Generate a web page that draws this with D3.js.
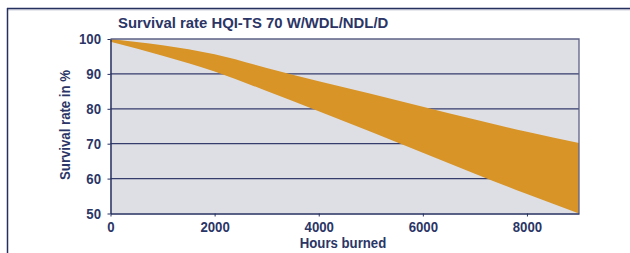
<!DOCTYPE html>
<html>
<head>
<meta charset="utf-8">
<script src="https://cdn.jsdelivr.net/npm/d3@7"></script>
<style>
  body { margin: 0; background: #fff; }
  text { font-family: "Liberation Sans", Arial, sans-serif; fill: #2b3566; font-weight: bold; }
</style>
</head>
<body>
<div id="chart"></div>
<script>
// data
var hours = [0, 1000, 2000, 3000, 4000, 5000, 6000, 7000, 8000, 9000]
var upper = [100, 98.2, 95.6, 91.7, 87.9, 84.3, 80.6, 76.9, 73.4, 70.2]
var lower = [99.2, 95.2, 90.7, 85.1, 79.3, 73.4, 67.4, 61.4, 55.6, 50]
var x_ticks = [0, 2000, 4000, 6000, 8000]
var y_ticks = [50, 60, 70, 80, 90, 100]

var total_width = 630, total_height = 253
var margin = {top: 39, left: 110.5, right: 51, bottom: 40}
var width = total_width - margin.left - margin.right,
    height = 213.5 - margin.top

var navy = "#25305f"
var squeeze = 0.88   // condensed look

var svg = d3.select("#chart").append("svg")
    .attr("width", total_width)
    .attr("height", total_height)

// outer frame
svg.append("line").attr("x1", 7).attr("x2", 630).attr("y1", 8.5).attr("y2", 8.5)
    .attr("stroke", navy).attr("stroke-width", 1.5)
svg.append("line").attr("x1", 7).attr("x2", 630).attr("y1", 9.8).attr("y2", 9.8)
    .attr("stroke", "#9aa0b8").attr("stroke-width", 0.8)
svg.append("line").attr("x1", 7.5).attr("x2", 7.5).attr("y1", 8).attr("y2", 253)
    .attr("stroke", navy).attr("stroke-width", 1.5)

svg.append("text")
    .attr("transform", "translate(118,28) scale(0.96,1)")
    .style("font-size", "15.5px")
    .text("Survival rate HQI-TS 70 W/WDL/NDL/D")

var g = svg.append("g").attr("transform", "translate(" + margin.left + "," + margin.top + ")")

var x = d3.scaleLinear().domain([0, 9000]).range([0, width])
var y = d3.scaleLinear().domain([50, 100]).range([height, 0])

g.append("rect").attr("width", width).attr("height", height).attr("fill", "#dedfe5")

// grid
g.selectAll(".grid").data(y_ticks.filter(d => d > 50 && d < 100)).enter()
    .append("line")
    .attr("x1", 0).attr("x2", width)
    .attr("y1", d => y(d)).attr("y2", d => y(d))
    .attr("stroke", "#343d6b").attr("stroke-width", 1.3)

// band
var band = hours.map((h, i) => ({h: h, hi: upper[i], lo: lower[i]}))
var area = d3.area()
    .x(d => x(d.h))
    .y0(d => y(d.lo))
    .y1(d => y(d.hi))
    .curve(d3.curveMonotoneX)
g.append("path").datum(band).attr("d", area).attr("fill", "#d89426")

// border top/right
g.append("path")
    .attr("d", "M0,0H" + width + "V" + height)
    .attr("fill", "none").attr("stroke", "#5c6285").attr("stroke-width", 1.3)

// axes
var xAxis = g.append("g").attr("transform", "translate(0," + height + ")")
    .call(d3.axisBottom(x).tickValues(x_ticks).tickSize(3).tickSizeOuter(0).tickFormat(d3.format("d")))
var yAxis = g.append("g")
    .call(d3.axisLeft(y).tickValues(y_ticks).tickSize(3).tickSizeOuter(0))
;[xAxis, yAxis].forEach(a => {
    a.select(".domain").attr("stroke", navy).attr("stroke-width", 1.5)
    a.selectAll(".tick line").attr("stroke", navy)
    a.selectAll("text").style("font-size", "15px").style("font-family", null).attr("fill", null)
        .attr("transform", "scale(" + squeeze + ",1)")
})
xAxis.selectAll("text").attr("y", 0).attr("dy", 0).attr("transform", "translate(0,18) scale(" + squeeze + ",1)")
yAxis.selectAll("text").attr("x", -9.5 / squeeze)

svg.append("text")
    .attr("transform", "translate(343,248) scale(" + squeeze + ",1)")
    .attr("text-anchor", "middle")
    .style("font-size", "15px")
    .text("Hours burned")

svg.append("text")
    .attr("transform", "translate(69.5,125) rotate(-90) scale(" + squeeze + ",1)")
    .attr("text-anchor", "middle")
    .style("font-size", "15px")
    .text("Survival rate in %")
</script>
</body>
</html>
